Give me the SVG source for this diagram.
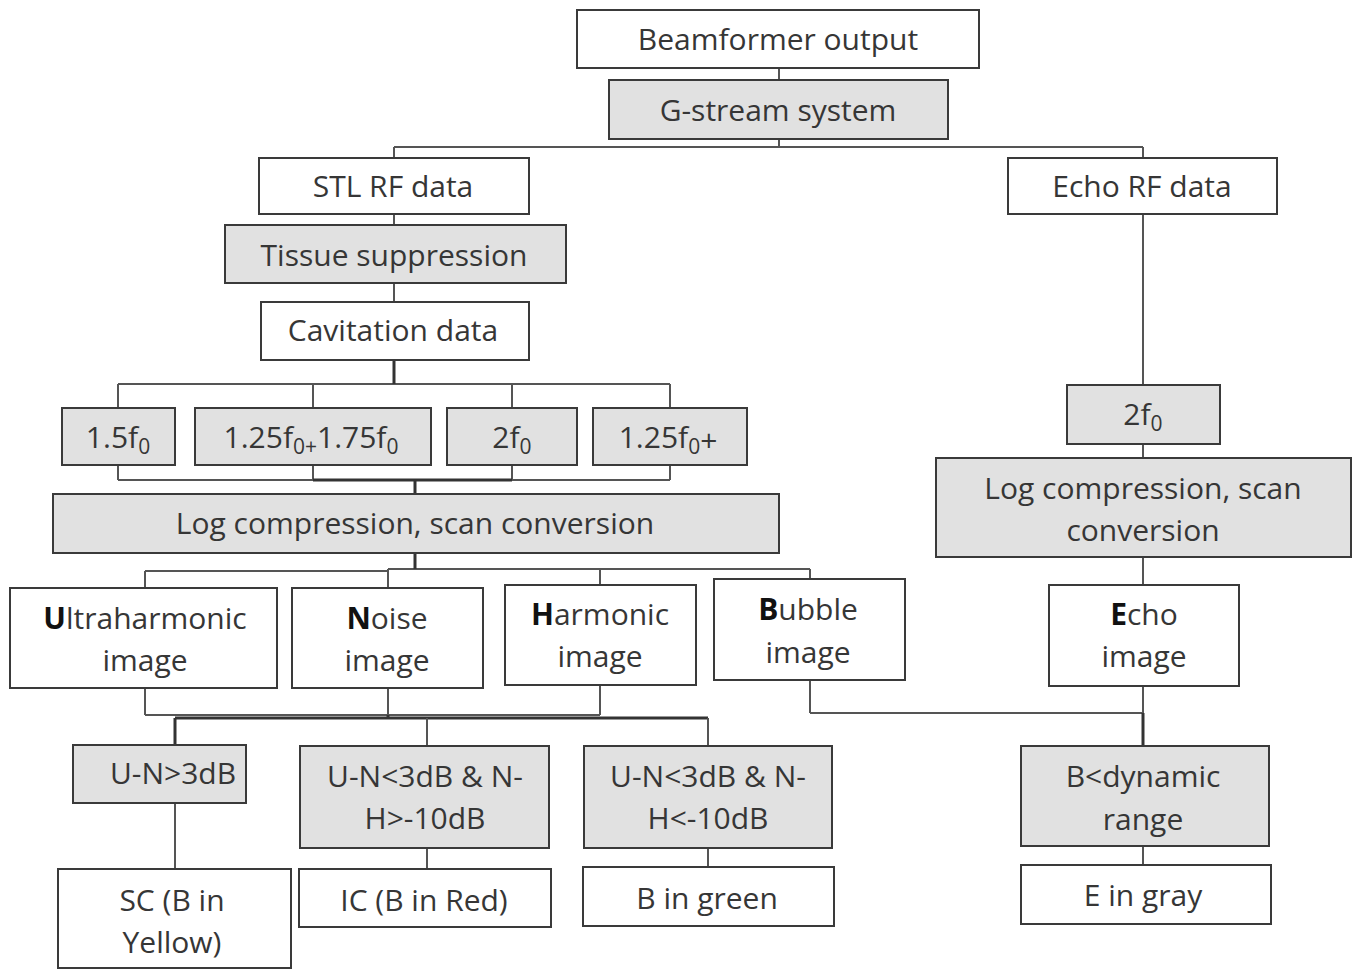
<svg xmlns="http://www.w3.org/2000/svg" width="1360" height="971" viewBox="0 0 1360 971">
<style>
.w{fill:#ffffff;stroke:#3a3a3a;stroke-width:2}
.g{fill:#e1e1e1;stroke:#3a3a3a;stroke-width:2}
.t{font-family:"Open Sans","Noto Sans",sans-serif;font-size:30px;fill:#363636;text-anchor:middle}
.c{fill:none;stroke:#555;stroke-width:2}
.k{fill:none;stroke:#333;stroke-width:3}
.b{font-weight:bold;fill:#111}
.s{font-size:21px}
</style>
<rect width="1360" height="971" fill="#fff"/>
<g id="connectors">
<path class="c" d="M779 68V80 M779 139V147 M394 147H1143 M394 147V158 M1143 147V158"/>
<path class="c" d="M394 214V225 M394 283V302 M1143 214V385"/>
<path class="c" d="M118 384H670 M118 384V408 M313 384V408 M512 384V408 M670 384V408"/>
<path class="k" d="M394 360V384"/>
<path class="c" d="M118 465V480 M313 465V480 M512 465V480 M670 465V480 M118 480H670"/>
<path class="k" d="M313 480H512 M415 480V494"/>
<path class="c" d="M145 571H388 M388 569H810 M145 571V588 M388 569V588 M600 569V585 M810 569V579"/>
<path class="k" d="M415 553V569"/>
<path class="c" d="M145 688V715 M388 688V715 M600 685V715 M145 715H600 M810 680V713 M810 713H1143"/>
<path class="k" d="M175 718H708 M175 718V745 M388 715V718"/>
<path class="c" d="M427 718V746 M708 718V746"/>
<path class="c" d="M1143 444V458 M1143 557V585 M1143 686V713"/>
<path class="k" d="M1143 713V746"/>
<path class="c" d="M175 803V869 M427 848V869 M708 848V867 M1143 846V865"/>
</g>
<g id="beamformer"><rect class="w" x="577" y="10" width="402" height="58"/><text class="t" x="778" y="50">Beamformer output</text></g>
<g id="gstream"><rect class="g" x="609" y="80" width="339" height="59"/><text class="t" x="778" y="121">G-stream system</text></g>
<g id="stl"><rect class="w" x="259" y="158" width="270" height="56"/><text class="t" x="393" y="197">STL RF data</text></g>
<g id="tissue"><rect class="g" x="225" y="225" width="341" height="58"/><text class="t" x="394" y="266">Tissue suppression</text></g>
<g id="cavitation"><rect class="w" x="261" y="302" width="268" height="58"/><text class="t" x="393" y="341">Cavitation data</text></g>
<g id="echorf"><rect class="w" x="1008" y="158" width="269" height="56"/><text class="t" x="1142" y="197">Echo RF data</text></g>
<g id="f15"><rect class="g" x="62" y="408" width="113" height="57"/><text class="t" x="118" y="448">1.5f<tspan class="s" dy="6">0</tspan></text></g>
<g id="f125175"><rect class="g" x="195" y="408" width="236" height="57"/><text class="t" x="311" y="448">1.25f<tspan class="s" dy="6">0+</tspan><tspan dy="-6">1.75f</tspan><tspan class="s" dy="6">0</tspan></text></g>
<g id="f2"><rect class="g" x="447" y="408" width="130" height="57"/><text class="t" x="512" y="448">2f<tspan class="s" dy="6">0</tspan></text></g>
<g id="f125p"><rect class="g" x="593" y="408" width="154" height="57"/><text class="t" x="668" y="448">1.25f<tspan class="s" dy="6">0</tspan><tspan dy="-3">+</tspan></text></g>
<g id="logleft"><rect class="g" x="53" y="494" width="726" height="59"/><text class="t" x="415" y="534">Log compression, scan conversion</text></g>
<g id="f2right"><rect class="g" x="1067" y="385" width="153" height="59"/><text class="t" x="1143" y="425">2f<tspan class="s" dy="6">0</tspan></text></g>
<g id="logright"><rect class="g" x="936" y="458" width="415" height="99"/><text class="t" x="1143" y="499">Log compression, scan</text><text class="t" x="1143" y="541">conversion</text></g>
<g id="ultra"><rect class="w" x="10" y="588" width="267" height="100"/><text class="t" x="145" y="629"><tspan class="b">U</tspan>ltraharmonic</text><text class="t" x="145" y="671">image</text></g>
<g id="noise"><rect class="w" x="292" y="588" width="191" height="100"/><text class="t" x="387" y="629"><tspan class="b">N</tspan>oise</text><text class="t" x="387" y="671">image</text></g>
<g id="harmonic"><rect class="w" x="505" y="585" width="191" height="100"/><text class="t" x="600" y="625"><tspan class="b">H</tspan>armonic</text><text class="t" x="600" y="667">image</text></g>
<g id="bubble"><rect class="w" x="714" y="579" width="191" height="101"/><text class="t" x="808" y="620"><tspan class="b">B</tspan>ubble</text><text class="t" x="808" y="663">image</text></g>
<g id="echoimg"><rect class="w" x="1049" y="585" width="190" height="101"/><text class="t" x="1144" y="625"><tspan class="b">E</tspan>cho</text><text class="t" x="1144" y="667">image</text></g>
<g id="un3"><rect class="g" x="73" y="745" width="173" height="58"/><text class="t" x="173" y="784">U-N&gt;3dB</text></g>
<g id="un3nh"><rect class="g" x="300" y="746" width="249" height="102"/><text class="t" x="425" y="787">U-N&lt;3dB &amp; N-</text><text class="t" x="425" y="829">H&gt;-10dB</text></g>
<g id="un3nl"><rect class="g" x="584" y="746" width="248" height="102"/><text class="t" x="708" y="787">U-N&lt;3dB &amp; N-</text><text class="t" x="708" y="829">H&lt;-10dB</text></g>
<g id="bdyn"><rect class="g" x="1021" y="746" width="248" height="100"/><text class="t" x="1143" y="787">B&lt;dynamic</text><text class="t" x="1143" y="830">range</text></g>
<g id="sc"><rect class="w" x="58" y="869" width="233" height="99"/><text class="t" x="172" y="911">SC (B in</text><text class="t" x="172" y="953">Yellow)</text></g>
<g id="ic"><rect class="w" x="299" y="869" width="252" height="58"/><text class="t" x="424" y="911">IC (B in Red)</text></g>
<g id="bgreen"><rect class="w" x="583" y="867" width="251" height="59"/><text class="t" x="707" y="909">B in green</text></g>
<g id="egray"><rect class="w" x="1021" y="865" width="250" height="59"/><text class="t" x="1143" y="906">E in gray</text></g>
</svg>
